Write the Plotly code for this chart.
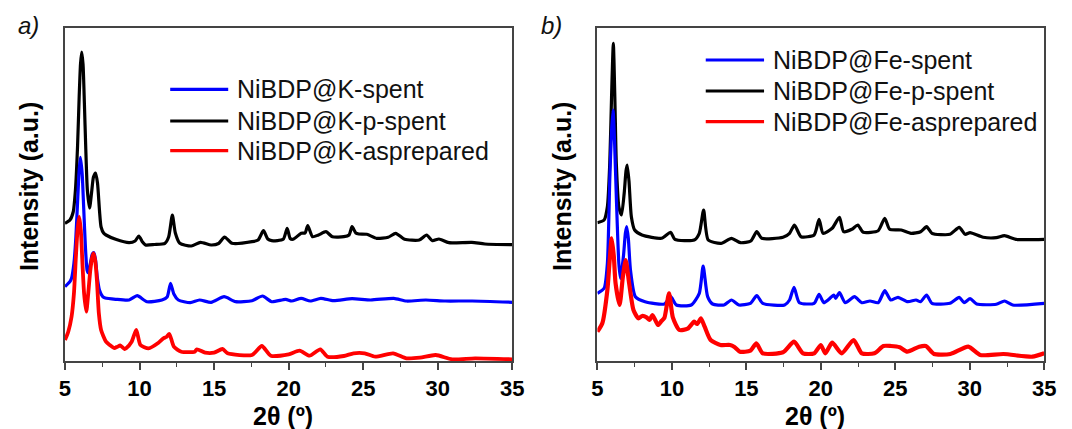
import plotly.graph_objects as go
from plotly.subplots import make_subplots

# ---------------- data: 2-theta (deg) vs intensity (a.u., offset stacks) ----------------
k_pspent_2t = [5.0, 5.33, 5.55, 5.7, 5.84, 5.95, 6.04, 6.12, 6.21, 6.3, 6.39, 6.5, 6.65, 6.78, 6.91,
               7.05, 7.18, 7.31, 7.42, 7.6, 7.75, 8.4, 9.3, 9.7, 9.95, 10.2, 10.4, 11.0, 11.7, 11.95,
               12.2, 12.4, 12.7, 13.47, 14.09, 14.8, 15.3, 15.7, 16.2, 17.54, 17.95, 18.31, 18.6,
               18.86, 19.63, 19.9, 20.1, 20.3, 20.84, 21.1, 21.28, 21.6, 22.0, 22.5, 22.93, 23.7,
               24.05, 24.25, 24.5, 24.7, 25.24, 25.9, 26.67, 27.18, 27.77, 28.76, 29.25, 29.64,
               30.08, 30.74, 32.28, 33.16, 35.0]
k_pspent_int = [137.7, 141, 149, 171, 214, 264, 297, 309, 297, 258, 214, 171, 153, 168, 184,
                188, 178, 151, 134, 127.7, 126, 121.7, 118.3, 120, 125, 119, 116, 116.5, 117.7, 124,
                146, 128, 117.7, 115, 118.7, 116, 117.5, 124, 117.7, 119.3, 121, 130.3, 122,
                120.3, 121.7, 132.7, 122.5, 121.7, 127.7, 128, 135.3, 124.3, 126, 129.3, 124.3, 124.3,
                126, 134.3, 128, 127, 126.7, 122.7, 123.7, 127.7, 121.7, 121, 126, 120.3,
                122, 118.3, 118.7, 117, 116.3]

k_spent_2t = [5.0, 5.33, 5.44, 5.6, 5.73, 5.86, 5.95, 6.03, 6.15, 6.26, 6.37, 6.48, 6.56, 6.7, 6.83,
              6.94, 7.05, 7.16, 7.31, 7.53, 7.7, 8.4, 9.3, 9.84, 10.5, 11.5, 11.85, 12.08, 12.3,
              12.6, 13.4, 14.02, 14.8, 15.67, 16.44, 17.54, 18.25, 18.86, 19.8, 20.2, 20.84,
              21.45, 22.16, 23.0, 24.25, 25.5, 27.05, 27.9, 29.2, 30.5, 32.3, 35.0]
k_spent_int = [74.3, 79.3, 82.7, 97.7, 124, 164, 191, 203.7, 187.7, 151, 114, 91, 88.3, 97.7, 107,
               108.3, 101, 84.3, 71, 64.3, 63, 61.7, 61, 65.3, 59.3, 61, 64, 77.7, 67,
               61, 58.3, 61, 58.7, 64.3, 59.3, 60.3, 65, 59.3, 61.7, 60, 62.7,
               60, 62.7, 60.3, 62.3, 61, 62.7, 60, 61, 60, 60, 58.7]

k_asprep_2t = [5.0, 5.22, 5.44, 5.6, 5.73, 5.84, 5.95, 6.06, 6.17, 6.28, 6.43, 6.56, 6.7, 6.83, 6.91,
               7.02, 7.14, 7.27, 7.42, 7.75, 8.0, 8.3, 8.52, 8.7, 9.0, 9.1, 9.47, 9.78, 10.06, 10.6,
               11.27, 11.6, 11.8, 12.0, 12.3, 12.8, 13.7, 13.85, 14.4, 15.0, 15.56, 15.9, 17.54,
               18.2, 18.8, 20.0, 20.73, 21.4, 22.12, 22.6, 23.7, 24.35, 25.1, 25.8, 27.0, 27.9,
               28.8, 29.86, 30.96, 32.5, 35.0]
k_asprep_int = [21, 29.3, 44.3, 67.7, 104, 131, 144.3, 131, 97.7, 67.7, 49.3, 67.7, 91, 104, 107.7,
                101, 81, 47.7, 31, 19.3, 16, 13, 14.3, 15.5, 12, 12.7, 19.3, 31, 16, 12.7,
                18.3, 22.7, 24, 27, 14.3, 9.3, 9.3, 11.7, 8.3, 8.3, 12, 7.7, 6,
                15, 5.3, 6.7, 10.3, 5.3, 11.7, 4.3, 5, 7.7, 7.7, 4.3, 7.7, 2.7,
                3.3, 6, 1.7, 2.7, 1.7]

fe_pspent_2t = [5.0, 5.45, 5.67, 5.83, 5.95, 6.07, 6.17, 6.27, 6.44, 6.62, 6.8, 6.92, 7.0, 7.12, 7.28,
                7.5, 7.99, 9.31, 9.92, 10.2, 11.5, 11.84, 12.13, 12.44, 13.3, 14.0, 14.6, 15.3,
                15.7, 16.03, 17.46, 17.9, 18.23, 18.67, 19.55, 19.88, 20.15, 20.76, 21.25, 21.53,
                22.08, 22.48, 22.85, 23.85, 24.29, 24.62, 25.4, 26.05, 26.7, 27.1, 27.46, 28.67,
                29.29, 29.69, 30.02, 30.9, 31.78, 32.33, 33.1, 35.0]
fe_pspent_int = [138.3, 141, 154.3, 197.7, 264, 317.7, 264, 197.7, 154.3, 146, 168, 190, 196, 180, 144.3,
                 131, 126, 122.7, 128.7, 121.7, 121, 127.7, 151, 121, 117.7, 122.7, 118.3, 120,
                 129.3, 122.7, 123.7, 127.7, 136, 124.3, 126, 141.7, 127.7, 132.7, 143.7, 129.3,
                 131.7, 136, 128.7, 130.3, 142.7, 131.7, 131, 127.7, 129.3, 134.3, 127.7, 126.7,
                 133.7, 126.7, 128.3, 123.7, 123.3, 125.3, 121.7, 121.7]

fe_spent_2t = [5.0, 5.45, 5.67, 5.83, 5.95, 6.05, 6.15, 6.27, 6.44, 6.55, 6.75, 6.88, 6.97, 7.08, 7.22,
               7.55, 8.2, 9.5, 9.92, 10.3, 11.3, 11.84, 12.1, 12.4, 12.73, 13.5, 14.0, 14.5, 15.27,
               15.7, 16.1, 17.57, 17.9, 18.2, 18.56, 19.55, 19.88, 20.2, 20.54, 20.87, 21.0, 21.25,
               21.64, 22.26, 22.75, 23.3, 23.85, 24.29, 24.69, 25.18, 25.84, 26.39, 26.7, 27.1,
               27.46, 28.67, 29.29, 29.62, 30.02, 30.46, 31.78, 32.33, 32.88, 35.0]
fe_spent_int = [67.7, 72.7, 97.7, 181, 230, 251, 220, 164.3, 97.7, 82.7, 105, 128, 134.3, 122, 91,
                64.3, 59.3, 57, 64.3, 56, 56, 67.7, 95, 64.3, 57, 56, 61, 56, 57.7,
                65.5, 57.7, 56, 61, 73.7, 58.3, 57.7, 66.7, 58.3, 61.7, 66, 62.7, 68.3,
                58.3, 64.3, 58.3, 60, 58.3, 70.3, 61, 63.7, 59.3, 61, 59.3, 66,
                57.7, 57.7, 63.7, 58.3, 62.3, 57, 56.7, 60, 56, 57.7]

fe_asprep_2t = [5.0, 5.33, 5.67, 5.82, 5.96, 6.1, 6.22, 6.49, 6.71, 6.9, 7.13, 7.42, 7.75, 8.0, 8.3,
                8.5, 8.7, 9.07, 9.3, 9.5, 9.81, 10.07, 10.5, 11.06, 11.5, 11.7, 11.95, 12.2, 12.6,
                13.26, 13.9, 14.2, 14.57, 15.27, 15.67, 16.1, 17.46, 18.2, 18.8, 19.55, 20.0, 20.3,
                20.76, 21.4, 22.2, 22.75, 23.6, 24.2, 24.7, 25.3, 25.8, 26.6, 27.05, 27.6, 28.7,
                29.9, 30.7, 32.26, 34.2, 35.0]
fe_asprep_int = [29.3, 37.7, 71, 100, 122.7, 105, 77.7, 56, 84.3, 101, 77.7, 51, 42.7, 45, 43.7,
                 41, 46, 36, 40, 43.3, 67.7, 43.3, 31, 32.3, 39.3, 37, 42.7, 34.3, 21,
                 16, 16, 14, 9.3, 10.3, 17.7, 7.7, 8.7, 19.3, 7.7, 7.7, 16, 7.7,
                 18.3, 7.7, 21, 7.7, 7.7, 15, 15, 13.7, 9.3, 14.3, 15, 7, 7,
                 14.3, 6, 7, 4.3, 7.7]

panel_a_names = ["NiBDP@K-spent", "NiBDP@K-p-spent", "NiBDP@K-asprepared"]
panel_b_names = ["NiBDP@Fe-spent", "NiBDP@Fe-p-spent", "NiBDP@Fe-asprepared"]
x_ticks = [5, 10, 15, 20, 25, 30, 35]

# ---------------- styling ----------------
W, H = 1072, 429
BLUE, BLACK, RED = "#0000ff", "#000000", "#ff0000"
FRAME = "#444444"
FONT = "Liberation Sans"


def fx(p):
    return p / W


def fy(p):
    return 1 - p / H


fig = make_subplots(rows=1, cols=2)

panels = [
    (1, [(k_pspent_2t, k_pspent_int, BLACK, panel_a_names[1], 3.2),
         (k_spent_2t, k_spent_int, BLUE, panel_a_names[0], 3.2),
         (k_asprep_2t, k_asprep_int, RED, panel_a_names[2], 3.8)]),
    (2, [(fe_pspent_2t, fe_pspent_int, BLACK, panel_b_names[1], 3.2),
         (fe_spent_2t, fe_spent_int, BLUE, panel_b_names[0], 3.2),
         (fe_asprep_2t, fe_asprep_int, RED, panel_b_names[2], 4.2)]),
]
for col, traces in panels:
    for xs, ys, color, name, lw in traces:
        fig.add_trace(go.Scatter(x=xs, y=ys, mode="lines", name=name,
                                 line=dict(color=color, width=lw, shape="spline", smoothing=0.6),
                                 showlegend=False), row=1, col=col)

x_domains = [(fx(60), fx(515)), (fx(601.5), fx(1056))]
y_domain = (fy(361), fy(28))

axis_common = dict(range=[5, 35], tickvals=x_ticks, ticks="outside", ticklen=7, tickwidth=1.5,
                   tickcolor=FRAME, showline=True, linecolor=FRAME, linewidth=1.5, mirror=True,
                   showgrid=False, zeroline=False, ticklabelstandoff=0,
                   tickfont=dict(family=FONT, size=22, color="#000000", weight="bold"),
                   minor=dict(dtick=2.5, tick0=5, ticks="outside", ticklen=4, tickwidth=1.2,
                              tickcolor=FRAME, showgrid=False))
fig.update_layout(
    xaxis=dict(domain=x_domains[0], **axis_common),
    xaxis2=dict(domain=x_domains[1], **axis_common),
    yaxis=dict(domain=y_domain, range=[0, 333], showticklabels=False, ticks="", showline=True,
               linecolor=FRAME, linewidth=1.5, mirror=True, showgrid=False, zeroline=False),
    yaxis2=dict(domain=y_domain, range=[0, 333], showticklabels=False, ticks="", showline=True,
                linecolor=FRAME, linewidth=1.5, mirror=True, showgrid=False, zeroline=False),
)

annotations = []
shapes = []

# panel letters
for label, cx in (("a)", 23), ("b)", 555)):
    annotations.append(dict(text=f"<i>{label}</i>", x=fx(cx), y=fy(26), xref="paper", yref="paper",
                            showarrow=False, xanchor="center", yanchor="middle",
                            font=dict(family=FONT, size=24, color="#111111")))

# axis titles
for cx in (282, 823):
    annotations.append(dict(text="<b>2θ (º)</b>", x=fx(cx), y=fy(415.5), xref="paper", yref="paper",
                            showarrow=False, xanchor="center", yanchor="middle",
                            font=dict(family=FONT, size=25, color="#000000")))
for cx in (23, 565):
    annotations.append(dict(text="<b>Intensity (a.u.)</b>", x=fx(cx), y=fy(186.5), xref="paper",
                            yref="paper", showarrow=False, textangle=-90, xanchor="center",
                            yanchor="middle", font=dict(family=FONT, size=25, color="#000000")))

# legends
legend_specs = [
    (167, 226, 232.7, [89.3, 121, 150.7], panel_a_names),
    (711.7, 771, 777.7, [60, 91, 121.7], panel_b_names),
]
for x0, x1, xt, rows, names in legend_specs:
    for yrow, name, color in zip(rows, names, (BLUE, BLACK, RED)):
        shapes.append(dict(type="line", xref="paper", yref="paper", x0=fx(x0), x1=fx(x1),
                           y0=fy(yrow), y1=fy(yrow), line=dict(color=color, width=3.2)))
        annotations.append(dict(text=name, x=fx(xt), y=fy(yrow), xref="paper", yref="paper",
                                showarrow=False, xanchor="left", yanchor="middle",
                                font=dict(family=FONT, size=25, color="#111111")))

fig.update_layout(width=W, height=H, margin=dict(l=0, r=0, t=0, b=0),
                  paper_bgcolor="white", plot_bgcolor="white",
                  annotations=annotations, shapes=shapes, showlegend=False)

fig.write_html("out.html")
